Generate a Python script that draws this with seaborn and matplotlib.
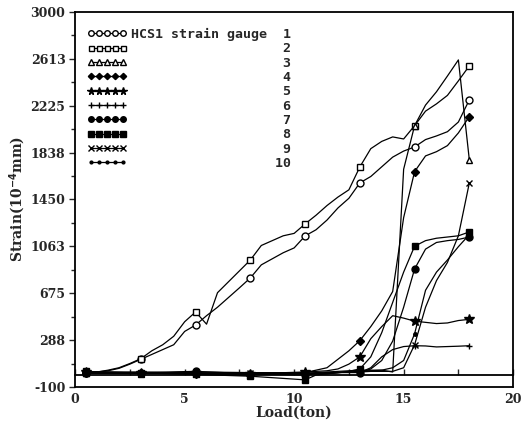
import pandas as pd
import matplotlib
matplotlib.use("Agg")
import matplotlib.pyplot as plt
import seaborn as sns
from matplotlib.lines import Line2D
from matplotlib.ticker import FixedLocator, FixedFormatter, MultipleLocator, AutoMinorLocator

# Load steps (ton) - full grid for gauges 1, 2; coarse grid for the others
LOAD = [0.5, 1.0, 1.5, 2.0, 2.5, 3.0, 3.5, 4.0, 4.5, 5.0, 5.5, 6.0,
        6.5, 7.0, 7.5, 8.0, 8.5, 9.0, 9.5, 10.0, 10.5, 11.0, 11.5, 12.0,
        12.5, 13.0, 13.5, 14.0, 14.5, 15.0, 15.5, 16.0, 16.5, 17.0, 17.5, 18.0]
LOAD_LOW = [0.5, 3.0, 5.5, 8.0, 10.5, 11.0, 11.5, 12.0, 12.5, 13.0,
            13.5, 14.0, 14.5, 15.0, 15.5, 16.0, 16.5, 17.0, 17.5, 18.0]

# Loads where the plotter put a symbol
MARK_AT = [0.5, 3.0, 5.5, 8.0, 10.5, 13.0, 15.5, 18.0]

# Strain (10^-4 mm) per gauge
gauge1 = [20, 25, 35, 55, 90, 130, 170, 210, 250, 360, 413, 490,
          560, 640, 720, 802, 910, 960, 1010, 1050, 1149, 1200, 1280, 1380,
          1460, 1587, 1640, 1720, 1800, 1850, 1884, 1945, 1975, 2010, 2090, 2273]
gauge2 = [20, 25, 40, 60, 95, 135, 200, 250, 320, 440, 521, 420,
          680, 770, 860, 950, 1070, 1110, 1150, 1170, 1248, 1320, 1400, 1470,
          1530, 1719, 1870, 1930, 1967, 1950, 2060, 2180, 2240, 2310, 2430, 2554]
gauge3 = [15, 10, 20, 5, 10, 15, 10, 20, 25, 30, 35, 40, 25, 1700, 2060, 2230, 2340, 2470, 2603, 1777]
gauge4 = [20, 15, 10, 0, 20, 40, 60, 130, 200, 284, 400, 530, 690, 1300, 1680, 1810, 1845, 1895, 2000, 2135]
gauge5 = [25, 20, 15, 10, 25, 30, 35, 50, 90, 150, 300, 400, 490, 470, 445, 435, 425, 430, 450, 460]
gauge6 = [20, 25, 15, 20, 10, 15, 20, 20, 25, 20, 60, 150, 210, 235, 242, 240, 232, 235, 238, 242]
gauge7 = [25, 20, 30, 10, 0, 10, 15, 20, 20, 20, 50, 120, 280, 560, 876, 1040, 1095, 1110, 1120, 1140]
gauge8 = [30, 15, 5, -10, -40, 0, 10, 20, 30, 50, 150, 350, 600, 850, 1064, 1110, 1130, 1140, 1150, 1182]
gauge9 = [15, 20, 10, 15, 20, 10, 15, 20, 25, 25, 30, 30, 30, 60, 250, 560, 780, 930, 1150, 1587]
gauge10 = [20, 15, 25, 20, 15, 20, 25, 30, 35, 40, 40, 40, 60, 120, 340, 700, 850, 950, 1060, 1160]

# y tick positions / labels as printed
Y_TICKS = [-100, 287.5, 675, 1062.5, 1450, 1837.5, 2225, 2612.5, 3000]
Y_LABELS = ["-100", "288", "675", "1063", "1450", "1838", "2225", "2613", "3000"]

series = [
    ("1", LOAD, gauge1, "o", "white", 5),
    ("2", LOAD, gauge2, "s", "white", 4.5),
    ("3", LOAD_LOW, gauge3, "^", "white", 5),
    ("4", LOAD_LOW, gauge4, "D", "black", 4),
    ("5", LOAD_LOW, gauge5, "*", "black", 7),
    ("6", LOAD_LOW, gauge6, "+", "black", 5),
    ("7", LOAD_LOW, gauge7, "o", "black", 5),
    ("8", LOAD_LOW, gauge8, "s", "black", 5),
    ("9", LOAD_LOW, gauge9, "x", "black", 5),
    ("10", LOAD_LOW, gauge10, ".", "black", 5),
]

sns.set_style("ticks")
plt.rcParams["font.family"] = ["DejaVu Serif"]
plt.rcParams["font.weight"] = "bold"

fig = plt.figure(figsize=(5.22, 4.24), dpi=100)
ax = fig.add_axes([0.144, 0.087, 0.839, 0.885])

handles = []
labels = []
for name, xs, ys, mk, fc, ms in series:
    df = pd.DataFrame({"load": xs, "strain": ys})
    marks = [i for i, x in enumerate(xs) if x in MARK_AT]
    sns.lineplot(data=df, x="load", y="strain", ax=ax, color="black",
                 linewidth=0.9, marker=mk, markevery=marks, markersize=ms,
                 markerfacecolor=fc, markeredgecolor="black",
                 markeredgewidth=1.0, estimator=None, sort=False)
    handles.append(Line2D([], [], color="black", linewidth=0.9, marker=mk,
                          markersize=ms * 0.8, markerfacecolor=fc,
                          markeredgecolor="black", markeredgewidth=1.0))
    if name == "1":
        labels.append("HCS1 strain gauge  1")
    else:
        labels.append(name.rjust(20))

ax.set_xlim(0, 20)
ax.set_ylim(-100, 3000)

ax.yaxis.set_major_locator(FixedLocator(Y_TICKS))
ax.yaxis.set_major_formatter(FixedFormatter(Y_LABELS))
ax.yaxis.set_minor_locator(AutoMinorLocator(2))
ax.xaxis.set_major_locator(MultipleLocator(5))
ax.xaxis.set_minor_locator(MultipleLocator(2.5))

# x axis drawn on the zero line, frame closed at -100
ax.spines["bottom"].set_position(("data", 0))
ax.axhline(-100, color="black", linewidth=1.3, clip_on=False)
for s in ["left", "right", "top", "bottom"]:
    ax.spines[s].set_linewidth(1.3)
    ax.spines[s].set_color("black")

ax.tick_params(axis="y", which="major", direction="out", length=4, width=1,
               labelsize=9, pad=3)
ax.tick_params(axis="y", which="minor", direction="out", length=3, width=1)
ax.tick_params(axis="x", which="both", direction="in", length=4, width=1,
               labelsize=9, pad=13)

ax.set_xlabel("Load(ton)", fontsize=10, fontweight="bold", labelpad=0)
ax.set_ylabel(r"Strain(10$^{\mathbf{-4}}$mm)", fontsize=10, fontweight="bold", labelpad=2)

ax.legend(handles, labels, loc="upper left", bbox_to_anchor=(0.027, 0.957),
          frameon=False, numpoints=5, handlelength=3.0, handletextpad=0.3,
          labelspacing=0.1, borderpad=0, borderaxespad=0,
          prop={"family": "DejaVu Sans Mono", "weight": "bold", "size": 9.5})

fig.savefig("out.png", dpi=100)
